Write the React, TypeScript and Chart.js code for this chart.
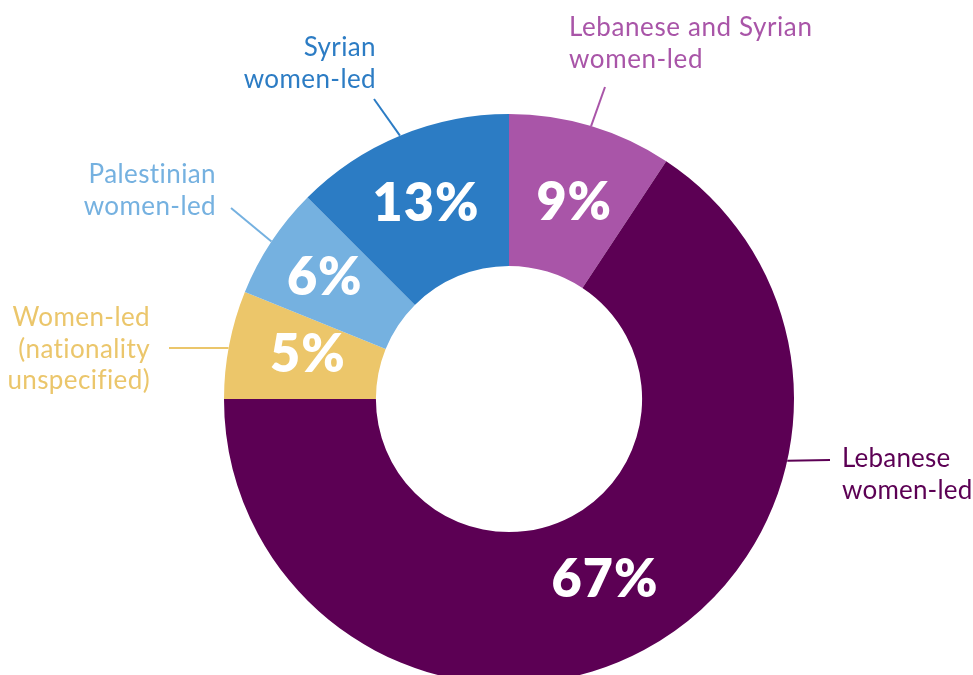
import React, { useEffect, useRef } from "react";
import { Chart, registerables } from "chart.js";

Chart.register(...registerables);

const categories = [
  "Lebanese and Syrian women-led",
  "Lebanese women-led",
  "Women-led (nationality unspecified)",
  "Palestinian women-led",
  "Syrian women-led",
];
// slice sizes as drawn in the picture
const sliceValues = [9.3, 65.7, 6.13, 6.37, 12.5];
// printed percentage labels
const percentLabels = ["9%", "67%", "5%", "6%", "13%"];
const labelLines = [
  ["Lebanese and Syrian", "women-led"],
  ["Lebanese", "women-led"],
  ["Women-led", "(nationality", "unspecified)"],
  ["Palestinian", "women-led"],
  ["Syrian", "women-led"],
];
const colors = ["#a955a8", "#5c0054", "#ecc66a", "#75b1e0", "#2c7cc4"];
const textColors = ["#a955a8", "#5c0054", "#ebc66b", "#75b1e0", "#2c7cc4"];

const FONT = "Lato, 'Open Sans', sans-serif";

// annotation layout (relative to chart center)
const ext = [
  { angle: null, end: [96, -312], align: "left", tx: 60, ty: -363, ls: 0.6 },
  { angle: 102.5, end: [321, 61], align: "left", tx: 333, ty: 68, ls: 0.2 },
  { angle: 280.3, end: [-340, -51], align: "right", tx: -359, ty: -73, ls: 0.4 },
  { angle: null, end: [-278, -191], align: "right", tx: -293, ty: -216, ls: 0.4 },
  { angle: null, end: [-135, -300], align: "right", tx: -133, ty: -343, ls: 0.4 },
];
const nudges = [
  [5, 2],
  [-3, -5],
  [4, -6],
  [-10, -8],
  [-3, -4],
];

const labelPlugin = {
  id: "labels",
  afterDatasetsDraw(chart: any) {
    const ctx = chart.ctx;
    const meta = chart.getDatasetMeta(0);
    ctx.save();
    meta.data.forEach((arc: any, i: number) => {
      const { x, y, startAngle, endAngle, innerRadius, outerRadius } = arc.getProps(
        ["x", "y", "startAngle", "endAngle", "innerRadius", "outerRadius"],
        true
      );
      const mid = (startAngle + endAngle) / 2;
      const r = (innerRadius + outerRadius) / 2;
      const px = x + r * Math.cos(mid) + nudges[i][0];
      const py = y + r * Math.sin(mid) + nudges[i][1];
      ctx.fillStyle = "#ffffff";
      ctx.font = `800 52px ${FONT}`;
      ctx.textAlign = "center";
      ctx.textBaseline = "alphabetic";
      (ctx as any).letterSpacing = "1px";
      ctx.fillText(percentLabels[i], px, py + 19);

      // leader line
      const e = ext[i];
      const a = e.angle == null ? mid : (e.angle * Math.PI) / 180 - Math.PI / 2;
      const sx = x + outerRadius * Math.cos(a);
      const sy = y + outerRadius * Math.sin(a);
      ctx.strokeStyle = textColors[i];
      ctx.lineWidth = 2;
      ctx.beginPath();
      ctx.moveTo(sx, sy);
      ctx.lineTo(x + e.end[0], y + e.end[1]);
      ctx.stroke();

      ctx.fillStyle = textColors[i];
      ctx.font = `400 26px ${FONT}`;
      (ctx as any).letterSpacing = `${e.ls}px`;
      ctx.textAlign = e.align as CanvasTextAlign;
      labelLines[i].forEach((ln, k) => {
        ctx.fillText(ln, x + e.tx, y + e.ty + k * 31.5);
      });
    });
    ctx.restore();
  },
};

export default function App() {
  const ref = useRef<HTMLCanvasElement>(null);
  useEffect(() => {
    if (!ref.current) return;
    const chart = new Chart(ref.current, {
      type: "doughnut",
      data: {
        labels: categories,
        datasets: [
          {
            data: sliceValues,
            backgroundColor: colors,
            borderWidth: 0,
            hoverOffset: 0,
          },
        ],
      },
      options: {
        responsive: false,
        animation: false,
        cutout: "46.7%",
        layout: { padding: { left: 224, right: 179, top: 114, bottom: 76 } },
        plugins: { legend: { display: false }, tooltip: { enabled: false } },
        events: [],
      },
      plugins: [labelPlugin],
    });
    return () => chart.destroy();
  }, []);
  return (
    <div
      style={{
        position: "absolute",
        left: 0,
        top: 0,
        width: 973,
        height: 675,
        overflow: "hidden",
        background: "#fff",
      }}
    >
      <canvas ref={ref} width={973} height={760} style={{ width: 973, height: 760, display: "block" }} />
    </div>
  );
}
